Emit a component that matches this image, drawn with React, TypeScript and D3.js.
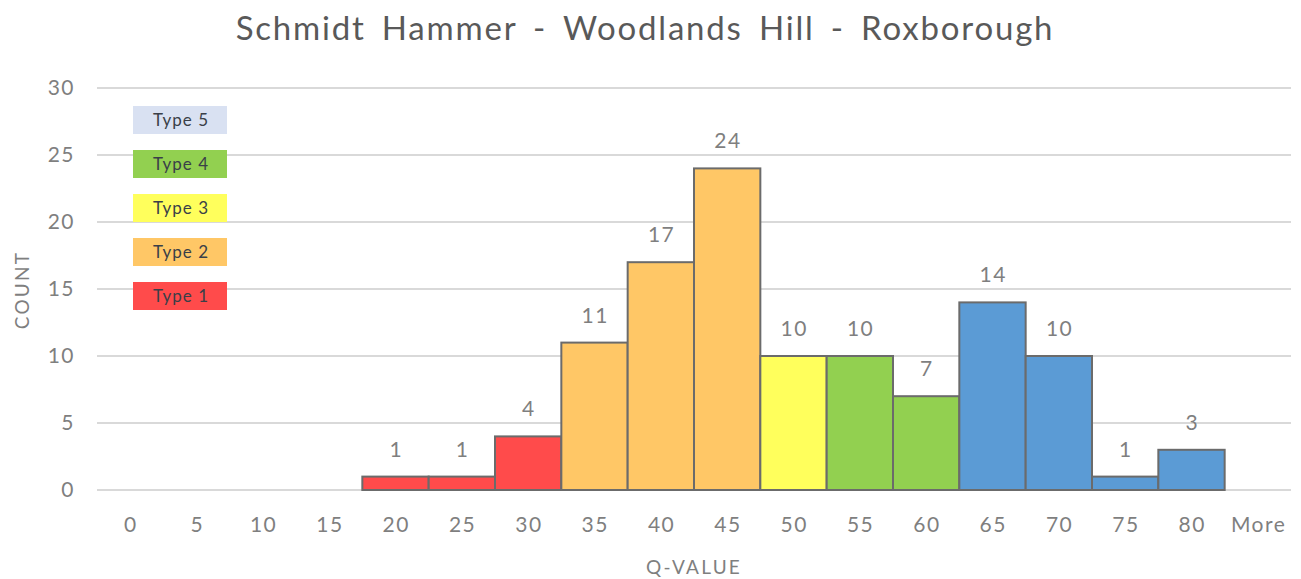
import React from "react";
import * as d3 from "d3";

// Histogram bins (Q-value upper bounds) and counts per bin
const bins = ["0", "5", "10", "15", "20", "25", "30", "35", "40", "45", "50", "55", "60", "65", "70", "75", "80", "More"];
const counts = [0, 0, 0, 0, 1, 1, 4, 11, 17, 24, 10, 10, 7, 14, 10, 1, 3, 0];
// Rock mass type for each bin (0 = none)
const binTypes = [0, 0, 0, 0, 1, 1, 1, 2, 2, 2, 3, 4, 4, 5, 5, 5, 5, 0];
const yTicks = [0, 5, 10, 15, 20, 25, 30];

const legendTypes = ["Type 5", "Type 4", "Type 3", "Type 2", "Type 1"];
const typeColors: Record<number, string> = {
  1: "#FF4B4B",
  2: "#FFC766",
  3: "#FFFF5C",
  4: "#92D050",
  5: "#5B9BD5",
};
const legendColors = ["#D9E1F2", "#92D050", "#FFFF5C", "#FFC766", "#FF4B4B"];

const W = 1301;
const H = 579;
const FONT = "Lato, 'Open Sans', sans-serif";
const TEXT = "#7F7F7F";

export default function App() {
  const left = 97;
  const right = 1291;
  const top = 88;
  const bottom = 490;

  const x = d3.scaleBand<string>().domain(bins).range([left, right]).padding(0);
  const y = d3.scaleLinear().domain([0, 30]).range([bottom, top]);

  return (
    <svg
      width={W}
      height={H}
      style={{ position: "absolute", left: 0, top: 0, background: "#fff" }}
      fontFamily={FONT}
    >
      <text
        x={645}
        y={40}
        textAnchor="middle"
        fontSize={33}
        fill="#595959"
        letterSpacing={1.8}
        wordSpacing={6}
      >
        Schmidt Hammer - Woodlands Hill - Roxborough
      </text>

      {/* gridlines and y tick labels */}
      {yTicks.map((t) => (
        <g key={t}>
          <line x1={left} x2={right} y1={y(t)} y2={y(t)} stroke="#D9D9D9" strokeWidth={2} />
          <text x={75} y={y(t)} dy="0.35em" textAnchor="end" fontSize={21} fill={TEXT} letterSpacing={1.5}>
            {t}
          </text>
        </g>
      ))}

      {/* bars */}
      {bins.map((b, i) =>
        counts[i] > 0 ? (
          <rect
            key={b}
            x={x(b)!}
            y={y(counts[i])}
            width={x.bandwidth()}
            height={y(0) - y(counts[i])}
            fill={typeColors[binTypes[i]]}
            stroke="#6B6B6B"
            strokeWidth={2}
          />
        ) : null
      )}

      {/* value labels */}
      {bins.map((b, i) =>
        counts[i] > 0 ? (
          <text
            key={"l" + b}
            x={x(b)! + x.bandwidth() / 2 + 0.75}
            y={y(counts[i]) - 20}
            textAnchor="middle"
            fontSize={21}
            fill={TEXT}
            letterSpacing={1.5}
          >
            {counts[i]}
          </text>
        ) : null
      )}

      {/* x tick labels */}
      {bins.map((b) => (
        <text
          key={"x" + b}
          x={x(b)! + x.bandwidth() / 2 + 0.75}
          y={525}
          dy="0.35em"
          textAnchor="middle"
          fontSize={21}
          fill={TEXT}
          letterSpacing={1.5}
        >
          {b}
        </text>
      ))}

      {/* axis titles */}
      <text x={694} y={574} textAnchor="middle" fontSize={19} fill={TEXT} letterSpacing={2.2}>
        Q-VALUE
      </text>
      <text
        transform="translate(29,290) rotate(-90)"
        textAnchor="middle"
        fontSize={19}
        fill={TEXT}
        letterSpacing={2.2}
      >
        COUNT
      </text>

      {/* type legend */}
      {legendTypes.map((name, i) => {
        const ly = 106 + i * 44;
        return (
          <g key={name}>
            <rect x={133} y={ly} width={94} height={28} fill={legendColors[i]} />
            <text x={181} y={ly + 14} dy="0.35em" textAnchor="middle" fontSize={17} fill="#3A3F48" letterSpacing={1}>
              {name}
            </text>
          </g>
        );
      })}
    </svg>
  );
}
